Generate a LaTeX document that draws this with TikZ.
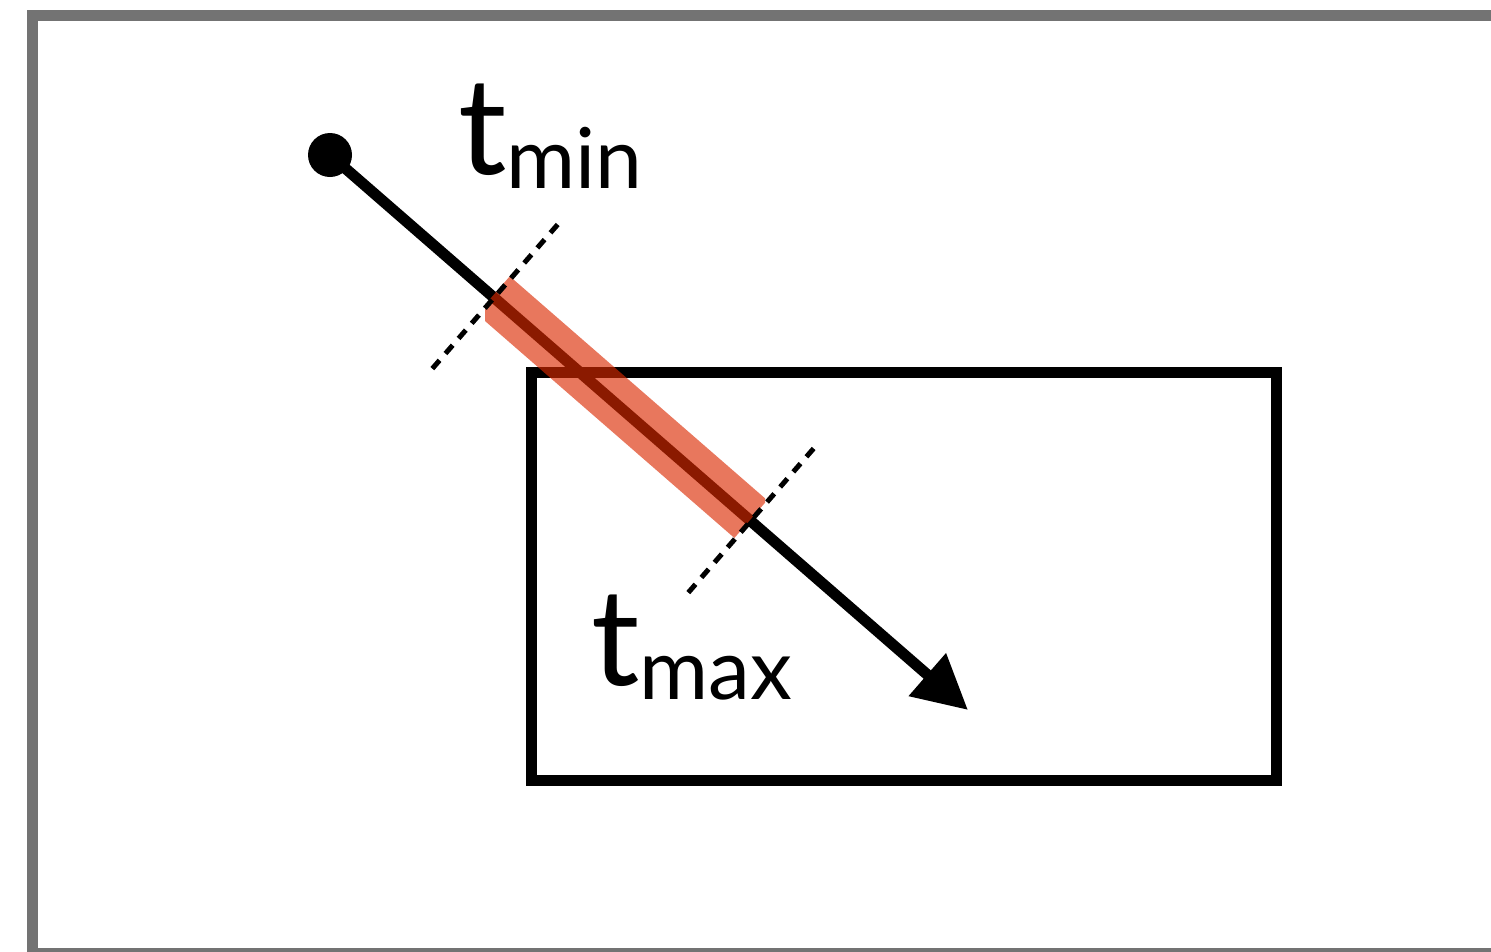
\documentclass[tikz,border=0pt]{standalone}
\usepackage{fontspec}
\setmainfont{Lato}
\usetikzlibrary{arrows.meta,calc}
\definecolor{framegray}{RGB}{115,115,115}
\definecolor{bandred}{RGB}{219,41,0}
\tikzset{
  frame/.style={draw=framegray,line width=11pt},
  boxline/.style={draw=black,line width=11pt},
  ray/.style={draw=black,line width=11pt,-{Triangle[length=54pt,width=54pt]}},
  band/.style={draw=bandred,line width=50pt,draw opacity=0.635,line cap=butt},
  cutline/.style={draw=black,line width=5pt,dash pattern=on 11pt off 9pt},
  bigt/.style={inner sep=0pt,anchor=base west,font=\fontsize{135}{135}\selectfont},
}
\newcommand{\subtxt}[1]{\raisebox{-14pt}{\fontsize{84}{84}\selectfont #1}}
\begin{document}
\begin{tikzpicture}[x=1pt,y=-1pt]
\useasboundingbox (0,0) rectangle (1491,951);
\clip (0,0) rectangle (1491,951);
\fill[white] (0,0) rectangle (1491,951);
\draw[frame] (32.5,15.5) rectangle (1520,953.5);
% box
\draw[boxline] (531,372) rectangle (1276,780);
% ray
\coordinate (S) at (330,155);
\coordinate (E) at (968,710);
\draw[ray] (S) -- (E);
\node[circle,fill=black,minimum size=44pt,inner sep=0pt] (start) at (S) {};
% interval band
\coordinate (b1) at ($(S)!0.2545!(E)+(1.0,-1.1)$);
\coordinate (b2) at ($(S)!0.658!(E)+(1.0,-1.1)$);
\begin{scope}
  \clip (485,0) rectangle (765,951);
  \draw[band] (b1) -- (b2);
\end{scope}
% cut lines
\coordinate (tmin) at ($(S)!0.2571!(E)$);
\coordinate (tmax) at ($(S)!0.6593!(E)$);
\coordinate (c1a) at ($(tmin)+94*(-0.6563,0.7545)$);
\coordinate (c1b) at ($(tmin)+105*(0.6563,-0.7545)$);
\coordinate (c2a) at ($(tmax)+95*(-0.6563,0.7545)$);
\coordinate (c2b) at ($(tmax)+105*(0.6563,-0.7545)$);
\draw[cutline] (c1a) -- (c1b);
\draw[cutline] (c2a) -- (c2b);
% labels
\node[bigt] (lmin) at (458,174) {t\subtxt{min}};
\node[bigt] (lmax) at (591,685) {t\subtxt{max}};
\end{tikzpicture}
\end{document}
